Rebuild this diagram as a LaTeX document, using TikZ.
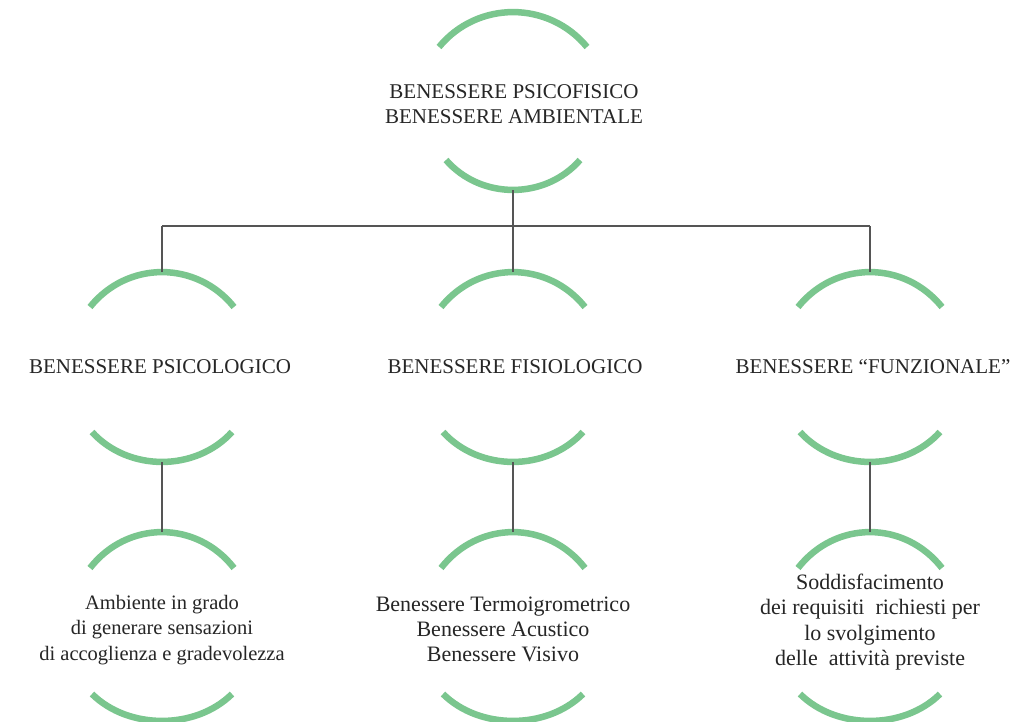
\documentclass[tikz,border=0pt]{standalone}
\usepackage{fontspec}
\setmainfont{Liberation Serif}
\definecolor{arcgreen}{RGB}{122,198,142}
\definecolor{linegray}{RGB}{85,85,85}
\newcommand{\arcCap}[4]{\draw[arcline] ({#1-#3},{#2+#4}) .. controls ({#1-0.48*#3},{#2-0.33*#4}) and ({#1+0.48*#3},{#2-0.33*#4}) .. ({#1+#3},{#2+#4});}
\newcommand{\arcCup}[4]{\draw[arcline] ({#1-#3},{#2-#4}) .. controls ({#1-0.48*#3},{#2+0.33*#4}) and ({#1+0.48*#3},{#2+0.33*#4}) .. ({#1+#3},{#2-#4});}
\begin{document}
\begin{tikzpicture}[x=1pt,y=-1pt,
  arcline/.style={draw=arcgreen,line width=6.5pt},
  conn/.style={draw=linegray,line width=1.6pt},
  capslabel/.style={align=center,font=\fontsize{21}{25}\selectfont,inner sep=0pt,text=black!85},
  desclabel/.style={align=center,font=\fontsize{20.5}{25.5}\selectfont,inner sep=0pt,text=black!85}]
\useasboundingbox[fill=white] (0,0) rectangle (1018,721);
% top element
\arcCap{513}{12}{74}{35}
\node[capslabel] (top) at (514,104) {BENESSERE PSICOFISICO\\BENESSERE AMBIENTALE};
\arcCup{513}{190}{67}{30}
\coordinate (topB) at (513,190);
\coordinate (jL) at (162,226);
\coordinate (jM) at (513,226);
\coordinate (jR) at (870,226);
% level 2
\foreach \cx/\nm in {162/L,513/M,870/R}{
  \arcCap{\cx}{272}{72}{35}
  \arcCup{\cx}{462}{70}{30}
  \arcCap{\cx}{532}{72}{36}
  \arcCup{\cx}{721}{70}{27}
  \coordinate (capTwo\nm) at (\cx,272);
  \coordinate (cupTwo\nm) at (\cx,462);
  \coordinate (capThree\nm) at (\cx,532);
}
\node[capslabel] (psi) at (160,367) {BENESSERE PSICOLOGICO};
\node[capslabel] (fis) at (515,367) {BENESSERE FISIOLOGICO};
\node[capslabel] (fun) at (873,367) {BENESSERE ``FUNZIONALE''};
\node[desclabel] (amb) at (162,630) {Ambiente in grado\\di generare sensazioni\\di accoglienza e gradevolezza};
\node[desclabel,font=\fontsize{22}{25}\selectfont] (ter) at (503,629) {Benessere Termoigrometrico\\Benessere Acustico\\Benessere Visivo};
\node[desclabel,font=\fontsize{22}{25.5}\selectfont] (sod) at (870,622) {Soddisfacimento\\dei requisiti\ \ richiesti per\\lo svolgimento\\delle\ \ attività previste};
% connectors
\draw[conn] (topB) -- (jM);
\draw[conn] (jL) -- (jR);
\draw[conn] (jL) -- (capTwoL);
\draw[conn] (jM) -- (capTwoM);
\draw[conn] (jR) -- (capTwoR);
\draw[conn] (cupTwoL) -- (capThreeL);
\draw[conn] (cupTwoM) -- (capThreeM);
\draw[conn] (cupTwoR) -- (capThreeR);
\end{tikzpicture}
\end{document}
